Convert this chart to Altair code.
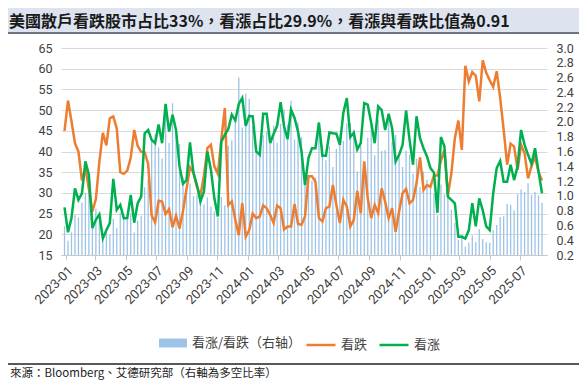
import altair as alt
import pandas as pd

# weekly observations (first one sits just left of the axis start and is clipped)
dates = pd.date_range("2022-12-29", periods=138, freq="7D").strftime("%Y-%m-%d").tolist()

# 看跌 (bearish %)
bear = [45, 52.3, 47.3, 42, 40, 33, 36, 31, 25.5, 28.5,
        37.5, 44.5, 41.5, 48, 48.5, 45.5, 35, 34.6, 35.4, 38.5,
        45.2, 41.3, 39.9, 39.8, 37, 24.5, 22.9, 28.1, 27.9, 24.9,
        26.1, 21.7, 24.5, 21.4, 25.7, 30.9, 36.2, 35, 31.4, 29.4,
        34.2, 40.8, 41.6, 36.4, 34.6, 43, 50.5, 27.1, 27.9, 23.5,
        19.8, 27.5, 19.4, 21, 25, 23.9, 24.3, 27, 26.3, 24.7,
        22.7, 26.9, 26.3, 21.2, 21.9, 21.9, 27.3, 22.5, 22.3, 24.3,
        34, 34, 32.7, 23.9, 23.1, 26.3, 26.7, 31.9, 27.1, 22.7,
        28.3, 26.7, 21.9, 23.5, 30.5, 25.1, 37.6, 28.7, 23.9, 27.1,
        25.1, 31.1, 27.9, 23.9, 26.3, 20.6, 25.5, 29.9, 31, 27.5,
        28.3, 32.3, 38.6, 30.7, 31.9, 31.5, 34.2, 34.2, 37.7, 40.4,
        29.4, 34.8, 43.2, 47.5, 40.4, 60.7, 56.9, 59.2, 58.3, 52.1,
        62, 59, 57.2, 55.6, 59.4, 52.9, 45.2, 36.8, 41.9, 41.2,
        35.6, 41.6, 39.6, 33.5, 36.5, 38.8, 35, 33]

# 看涨 (bullish %)
bull = [26.5, 20.5, 23.9, 31.1, 28.3, 29.9, 37.6, 34.4, 21.5, 23.5,
        24.8, 19, 21, 22.7, 33.4, 25.9, 27.1, 23.9, 23.9, 29.5,
        22.8, 27.5, 29.1, 44.4, 45.2, 42.8, 42, 46.5, 42, 51.5,
        44.8, 48.9, 45.2, 36.4, 32.2, 33.1, 42.2, 34.8, 31.9, 27.9,
        30.3, 40, 35.6, 28.7, 24.3, 42.4, 44, 45.4, 48.9, 47.5,
        51.5, 52.9, 46.2, 48.6, 48.5, 40, 39.2, 49.1, 49.1, 42,
        44.3, 46.2, 51.9, 46, 43, 50.1, 48.1, 44.8, 40, 31.9,
        38.4, 40.8, 40.8, 47, 39, 39, 44.6, 44.4, 44.3, 41.6,
        49.3, 52.9, 43.5, 44.5, 40.5, 42, 51.7, 51.3, 46.9, 42,
        50.9, 50, 45.2, 49.1, 45.6, 37.6, 39.2, 41.6, 49.9, 42.8,
        36.8, 48.5, 43.2, 40.8, 38.8, 36, 34.9, 25.2, 43.5, 41.2,
        29.1, 28.3, 27.5, 19.4, 19.4, 19, 21, 27.5, 21.9, 28.7,
        25.8, 21.9, 21, 29.9, 36, 37.7, 32.7, 32.7, 36.8, 33.1,
        36.4, 45.2, 41.6, 39.2, 37, 40.8, 35.2, 29.9]

tick_months = ["2023-01", "2023-03", "2023-05", "2023-07", "2023-09", "2023-11",
               "2024-01", "2024-03", "2024-05", "2024-07", "2024-09", "2024-11",
               "2025-01", "2025-03", "2025-05", "2025-07"]
left_ticks = [15, 20, 25, 30, 35, 40, 45, 50, 55, 60, 65]
right_ticks = [0.2, 0.4, 0.6, 0.8, 1.0, 1.2, 1.4, 1.6, 1.8, 2.0, 2.2, 2.4, 2.6, 2.8, 3.0]

title_text = "美國散戶看跌股市占比33%，看漲占比29.9%，看漲與看跌比值為0.91"
source_text = "來源：Bloomberg、艾德研究部（右軸為多空比率）"
bar_name = "看涨/看跌（右轴）"
bear_name = "看跌"
bull_name = "看涨"

df = pd.DataFrame({"date": dates, "bear": bear, "bull": bull})

W, H = 486, 207
PL, PT, PR, PB = 53, 40, 32, 126

LABEL_FONT = "Roboto"
CJK = "Noto Sans CJK SC"
LABEL_COLOR = "#404040"

def dt(s):
    y, m = s.split("-")
    return alt.DateTime(year=int(y), month=int(m), date=1, utc=True)

x_scale = alt.Scale(type="utc",
                    domain=[alt.DateTime(year=2023, month=1, date=1, utc=True),
                            alt.DateTime(year=2025, month=8, date=14, utc=True)])
x_axis = alt.Axis(values=[dt(s) for s in tick_months], format="%Y-%m", labelAngle=-45,
                  labelOverlap=False, grid=False, domainColor="#c8c8c8",
                  tickColor="#c8c8c8", tickSize=5,
                  labelFont=LABEL_FONT, labelFontSize=13, labelColor=LABEL_COLOR,
                  labelPadding=4, title=None)
x_enc = alt.X("date:T", scale=x_scale, axis=x_axis)

bars = alt.Chart(df).transform_calculate(
    ratio="datum.bull / datum.bear", s_bar="'" + bar_name + "'"
).mark_bar(size=1.3, clip=True).encode(
    x=x_enc,
    y=alt.Y("ratio:Q", scale=alt.Scale(domain=[0.2, 3.0], zero=False, nice=False),
            axis=alt.Axis(orient="right", values=right_ticks, format=".1f", grid=False,
                          ticks=False, domain=False, labelPadding=9, labelOverlap=False,
                          labelFont=LABEL_FONT, labelFontSize=12.5, labelColor=LABEL_COLOR,
                          title=None)),
    y2=alt.datum(0.2),
    fill=alt.Fill("s_bar:N", scale=alt.Scale(domain=[bar_name], range=["#9DC3E6"]),
                  legend=alt.Legend(orient="none", legendX=98, legendY=281, title=None,
                                    symbolType="M-1,-0.32H1V0.32H-1Z", symbolSize=784,
                                    symbolStrokeWidth=0, labelFont=CJK, labelFontSize=13,
                                    labelColor=LABEL_COLOR, labelOffset=5, padding=0)),
)

left_scale = alt.Scale(domain=[15, 65], nice=False, zero=False)
left_axis = alt.Axis(values=left_ticks, grid=True, gridColor="#d9d9d9", ticks=False,
                     domain=False, labelPadding=9, labelFont=LABEL_FONT, labelFontSize=12.5,
                     labelColor=LABEL_COLOR, title=None)
stroke_scale = alt.Scale(domain=[bear_name, bull_name], range=["#ED7D31", "#00B050"])
stroke_legend = alt.Legend(orient="none", legendX=244, legendY=281, direction="horizontal",
                           title=None, symbolType="stroke", symbolSize=841,
                           symbolStrokeWidth=2.5, labelFont=CJK, labelFontSize=13,
                           labelColor=LABEL_COLOR, labelOffset=4, columnPadding=6, padding=0)

line_bear = alt.Chart(df).transform_calculate(s_line="'" + bear_name + "'").mark_line(
    strokeWidth=2.5, clip=True).encode(
    x=x_enc,
    y=alt.Y("bear:Q", scale=left_scale, axis=left_axis),
    stroke=alt.Stroke("s_line:N", scale=stroke_scale, legend=stroke_legend),
)
line_bull = alt.Chart(df).transform_calculate(s_line="'" + bull_name + "'").mark_line(
    strokeWidth=2.5, clip=True).encode(
    x=x_enc,
    y=alt.Y("bull:Q", scale=left_scale, axis=left_axis),
    stroke=alt.Stroke("s_line:N", scale=stroke_scale, legend=stroke_legend),
)
lines = alt.layer(line_bear, line_bull)

one = alt.Data(values=[{"k": 1}])
band = alt.Chart(one).mark_rect(color="#dde4f0").encode(
    x=alt.value(-PL), x2=alt.value(W + PR), y=alt.value(-PT), y2=alt.value(-16))
band_line = alt.Chart(one).mark_rule(color="#3b4658", strokeWidth=1.5).encode(
    x=alt.value(-PL), x2=alt.value(W + PR), y=alt.value(-15))
title = alt.Chart(one).mark_text(text=title_text, align="left", baseline="middle",
                                 font="Noto Sans CJK TC", fontSize=16, fontWeight="bold",
                                 color="#1a1a1a").encode(
    x=alt.value(-52), y=alt.value(-26.5))
src_line = alt.Chart(one).mark_rule(color="#222222", strokeWidth=1.5).encode(
    x=alt.value(-PL), x2=alt.value(W + PR), y=alt.value(316))
src = alt.Chart(one).mark_text(text=source_text, align="left", baseline="middle",
                               font="Noto Sans CJK TC", fontSize=11.5, color="#222222").encode(
    x=alt.value(-51), y=alt.value(326))

chart = alt.layer(band, band_line, title, bars, lines, src_line, src).resolve_scale(
    y="independent"
).properties(
    width=W, height=H,
    autosize=alt.AutoSizeParams(type="none"),
    padding={"left": PL, "top": PT, "right": PR, "bottom": PB},
).configure_view(strokeWidth=0)

chart.save("out.html", embed_options={"renderer": "svg", "actions": False})
